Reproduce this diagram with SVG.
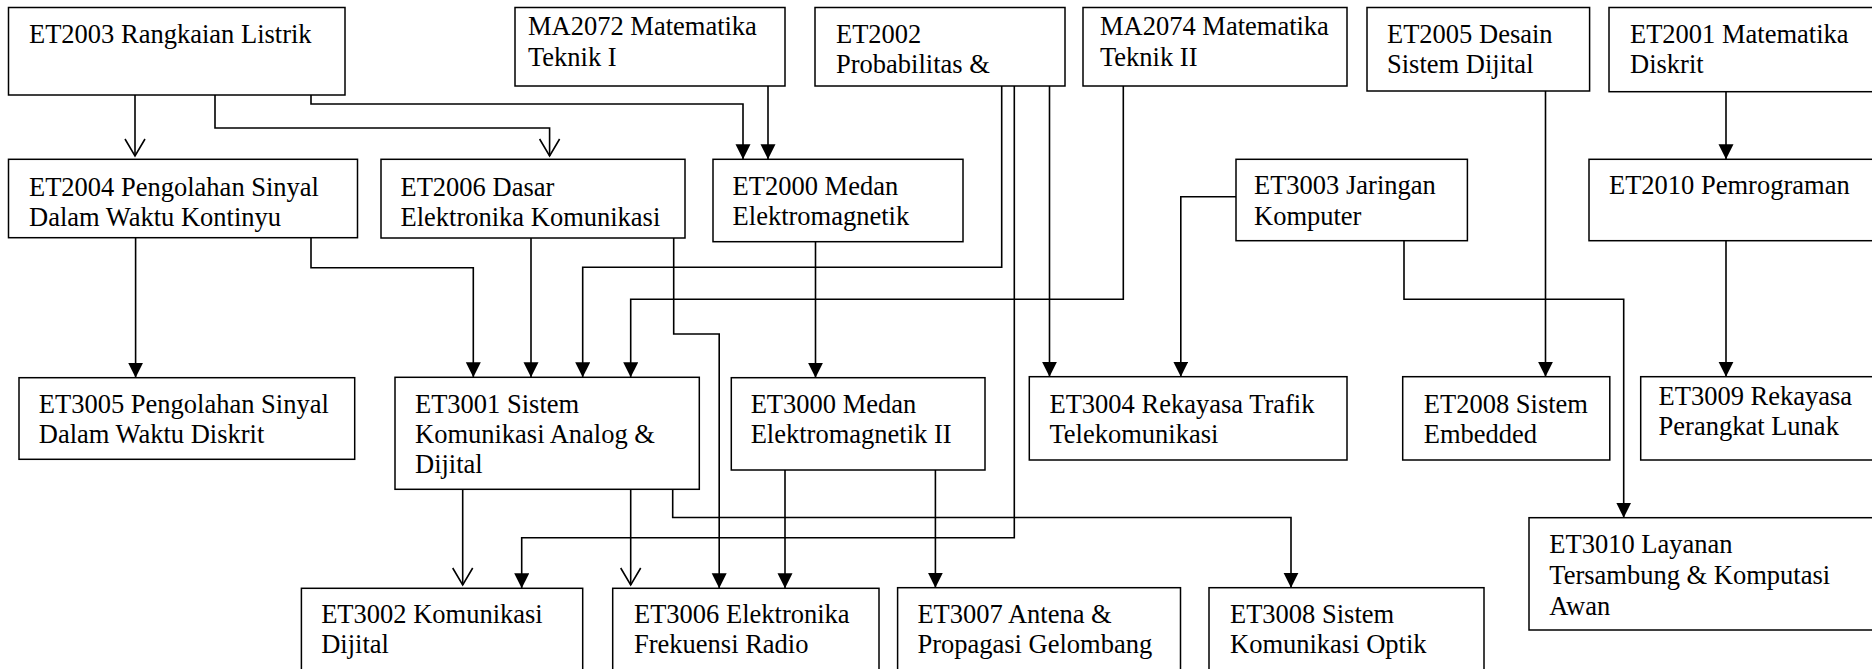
<svg xmlns="http://www.w3.org/2000/svg" width="1872" height="669" viewBox="0 0 1872 669">
<style>
.box{fill:#fff;stroke:#000;stroke-width:1.5}
.t{font-family:"Liberation Serif","Times New Roman",serif;font-size:26.5px;fill:#000}
.c{fill:none;stroke:#000;stroke-width:1.6}
.f{marker-end:url(#fa)}
.o{marker-end:url(#oa)}
</style>
<defs>
<marker id="fa" markerUnits="userSpaceOnUse" markerWidth="16" markerHeight="16" viewBox="0 0 16 16" refX="15" refY="7.5" orient="auto"><path d="M0,0 L15,7.5 L0,15 z" fill="#000"/></marker>
<marker id="oa" markerUnits="userSpaceOnUse" markerWidth="20" markerHeight="24" viewBox="0 0 20 24" refX="18" refY="11" orient="auto"><path d="M1,1 L18,11 L1,21" fill="none" stroke="#000" stroke-width="1.6"/></marker>
</defs>
<rect width="1872" height="669" fill="#fff"/>
<g id="connectors">
<path class="c o" d="M135,95 V156"/>
<path class="c o" d="M215,95 V128 H549.6 V156"/>
<path class="c f" d="M311,95 V104 H743 V159.3"/>
<path class="c f" d="M768,86 V159.3"/>
<path class="c f" d="M135.6,237.7 V377.7"/>
<path class="c f" d="M311,237.7 V267.7 H473.3 V377.3"/>
<path class="c f" d="M531,238 V377.3"/>
<path class="c f" d="M1001.7,86 V267.3 H582.7 V377.3"/>
<path class="c f" d="M1123.3,86 V299.3 H630.7 V377.3"/>
<path class="c f" d="M673.7,238 V334 H719.2 V588.3"/>
<path class="c f" d="M815.5,241.7 V377.7"/>
<path class="c f" d="M1049.5,86 V376.7"/>
<path class="c f" d="M1014.3,86 V537.7 H521.7 V588.3"/>
<path class="c f" d="M1236,196.7 H1180.8 V376.7"/>
<path class="c f" d="M1545.5,91 V376.7"/>
<path class="c f" d="M1726,91.7 V159.3"/>
<path class="c f" d="M1726,240.7 V376.7"/>
<path class="c f" d="M1404,240.7 V299.3 H1623.7 V517.7"/>
<path class="c o" d="M462.7,489.3 V585"/>
<path class="c o" d="M630.7,489.3 V585"/>
<path class="c f" d="M672.7,489.3 V517.5 H1291 V587.7"/>
<path class="c f" d="M785,470 V588.3"/>
<path class="c f" d="M935.4,470 V587.7"/>
</g>
<g id="ET2003"><rect class="box" x="8.5" y="7.5" width="336.5" height="87.5"/><text class="t" x="29" y="43">ET2003 Rangkaian Listrik</text></g>
<g id="MA2072"><rect class="box" x="515" y="7.5" width="270" height="78.5"/><text class="t" x="528" y="35">MA2072 Matematika</text><text class="t" x="528" y="66">Teknik I</text></g>
<g id="ET2002"><rect class="box" x="815" y="7.5" width="250" height="78.5"/><text class="t" x="836" y="43">ET2002</text><text class="t" x="836" y="72.5">Probabilitas &amp;</text></g>
<g id="MA2074"><rect class="box" x="1083" y="7.5" width="264" height="78.5"/><text class="t" x="1100" y="35">MA2074 Matematika</text><text class="t" x="1100" y="66">Teknik II</text></g>
<g id="ET2005"><rect class="box" x="1367" y="7.5" width="222.6" height="83.5"/><text class="t" x="1387" y="43">ET2005 Desain</text><text class="t" x="1387" y="72.5">Sistem Dijital</text></g>
<g id="ET2001"><rect class="box" x="1609" y="7.5" width="280" height="84.2"/><text class="t" x="1630" y="43">ET2001 Matematika</text><text class="t" x="1630" y="72.5">Diskrit</text></g>
<g id="ET2004"><rect class="box" x="8.5" y="159.3" width="349" height="78.4"/><text class="t" x="29" y="195.5">ET2004 Pengolahan Sinyal</text><text class="t" x="29" y="225.5">Dalam Waktu Kontinyu</text></g>
<g id="ET2006"><rect class="box" x="381" y="159.3" width="304" height="78.7"/><text class="t" x="400.5" y="195.5">ET2006 Dasar</text><text class="t" x="400.5" y="225.5">Elektronika Komunikasi</text></g>
<g id="ET2000"><rect class="box" x="713" y="159.3" width="250" height="82.4"/><text class="t" x="732.6" y="195">ET2000 Medan</text><text class="t" x="732.6" y="225">Elektromagnetik</text></g>
<g id="ET3003"><rect class="box" x="1236" y="159.3" width="231.4" height="81.4"/><text class="t" x="1254" y="194">ET3003 Jaringan</text><text class="t" x="1254" y="225">Komputer</text></g>
<g id="ET2010"><rect class="box" x="1589" y="159.3" width="300" height="81.4"/><text class="t" x="1609" y="194">ET2010 Pemrograman</text></g>
<g id="ET3005"><rect class="box" x="19" y="377.7" width="335.7" height="81.6"/><text class="t" x="38.8" y="412.7">ET3005 Pengolahan Sinyal</text><text class="t" x="38.8" y="442.7">Dalam Waktu Diskrit</text></g>
<g id="ET3001"><rect class="box" x="395" y="377.3" width="304.3" height="112"/><text class="t" x="415" y="412.7">ET3001 Sistem</text><text class="t" x="415" y="442.7">Komunikasi Analog &amp;</text><text class="t" x="415" y="473.3">Dijital</text></g>
<g id="ET3000"><rect class="box" x="731.3" y="377.7" width="253.7" height="92.3"/><text class="t" x="750.7" y="412.7">ET3000 Medan</text><text class="t" x="750.7" y="443.3">Elektromagnetik II</text></g>
<g id="ET3004"><rect class="box" x="1029.3" y="376.7" width="317.7" height="83.3"/><text class="t" x="1049.5" y="412.7">ET3004 Rekayasa Trafik</text><text class="t" x="1049.5" y="443.3">Telekomunikasi</text></g>
<g id="ET2008"><rect class="box" x="1402.7" y="376.7" width="207.1" height="83.3"/><text class="t" x="1423.8" y="412.7">ET2008 Sistem</text><text class="t" x="1423.8" y="443.3">Embedded</text></g>
<g id="ET3009"><rect class="box" x="1640.7" y="376.7" width="250" height="83.3"/><text class="t" x="1658.6" y="405">ET3009 Rekayasa</text><text class="t" x="1658.6" y="435">Perangkat Lunak</text></g>
<g id="ET3010"><rect class="box" x="1529" y="517.7" width="360" height="112.3"/><text class="t" x="1549.3" y="552.7">ET3010 Layanan</text><text class="t" x="1549.3" y="584">Tersambung &amp; Komputasi</text><text class="t" x="1549.3" y="615">Awan</text></g>
<g id="ET3002"><rect class="box" x="301.4" y="588.3" width="281.3" height="100"/><text class="t" x="321.2" y="623.3">ET3002 Komunikasi</text><text class="t" x="321.2" y="653.3">Dijital</text></g>
<g id="ET3006"><rect class="box" x="612.7" y="588.3" width="266.3" height="100"/><text class="t" x="634" y="623.3">ET3006 Elektronika</text><text class="t" x="634" y="653.3">Frekuensi Radio</text></g>
<g id="ET3007"><rect class="box" x="897.6" y="587.7" width="282.9" height="100"/><text class="t" x="917.4" y="623.3">ET3007 Antena &amp;</text><text class="t" x="917.4" y="653.3">Propagasi Gelombang</text></g>
<g id="ET3008"><rect class="box" x="1209" y="587.7" width="275" height="100"/><text class="t" x="1230" y="623.3">ET3008 Sistem</text><text class="t" x="1230" y="653.3">Komunikasi Optik</text></g>
</svg>
